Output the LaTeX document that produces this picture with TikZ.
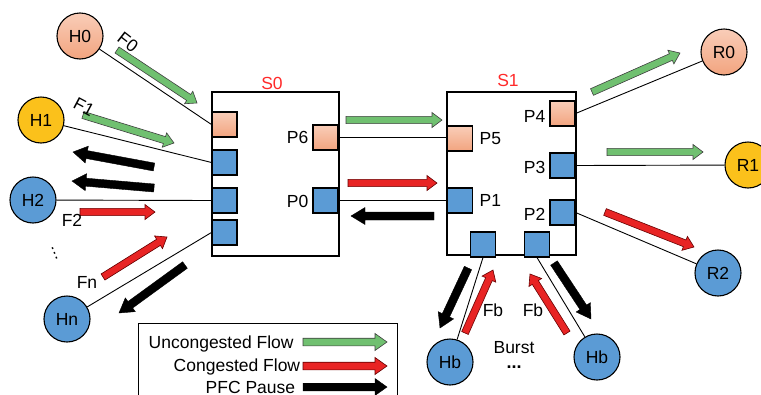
\documentclass[tikz,border=0pt]{standalone}
\usepackage{fontspec}
\setmainfont{Liberation Sans}
\newfontfamily\dejavu{DejaVu Sans}
\usetikzlibrary{calc}
\definecolor{salA}{HTML}{F9CDB8}
\definecolor{salB}{HTML}{F2A47F}
\definecolor{pblue}{HTML}{5B9BD5}
\definecolor{gold}{HTML}{FBC11B}
\definecolor{agreen}{HTML}{70C070}
\definecolor{ared}{HTML}{E82424}
\definecolor{sred}{HTML}{FF2A2A}
% block arrow: style, half shaft, half head, head length, start, tip
\newcommand\blockarr[6]{%
  \coordinate (baA) at #5; \coordinate (baB) at #6;
  \coordinate (baC) at ($(baB)!#4!(baA)$);
  \filldraw[#1] ($(baA)!#2!90:(baB)$) -- ($(baC)!#2!-90:(baA)$) -- ($(baC)!#3!-90:(baA)$) -- (baB) -- ($(baC)!#3!90:(baA)$) -- ($(baC)!#2!90:(baA)$) -- ($(baA)!#2!-90:(baB)$) -- cycle;}
\newcommand\ArrG[2]{\blockarr{ga}{3.6pt}{7.5pt}{10pt}{#1}{#2}}
\newcommand\ArrR[2]{\blockarr{ra}{3.6pt}{7.5pt}{10pt}{#1}{#2}}
\newcommand\ArrK[2]{\blockarr{ka}{4pt}{8.5pt}{14pt}{#1}{#2}}
\newcommand\LegG[2]{\blockarr{ga}{3.8pt}{8.5pt}{12pt}{#1}{#2}}
\newcommand\LegR[2]{\blockarr{ra}{3.8pt}{8.5pt}{12pt}{#1}{#2}}
\newcommand\LegK[2]{\blockarr{ka}{3.8pt}{8.5pt}{12pt}{#1}{#2}}
\begin{document}
\begin{tikzpicture}[x=1pt,y=-1pt,
  every node/.style={font=\fontsize{17.5}{21}\selectfont, inner sep=0.5pt},
  host/.style={circle, draw, line width=1.1pt, minimum size=46pt, inner sep=0pt},
  sal/.style={top color=salA, bottom color=salB},
  port/.style={rectangle, draw, line width=1.1pt, minimum size=25pt, inner sep=0pt},
  bport/.style={port, fill=pblue},
  sport/.style={port, sal},
  swbox/.style={rectangle, draw, line width=1.3pt, inner sep=0pt},
  link/.style={line width=0.9pt},
  ga/.style={fill=agreen, draw=black!75, line width=0.6pt},
  ra/.style={fill=ared, draw=black!60!red, line width=0.6pt},
  ka/.style={fill=black, draw=black, line width=0.4pt},
  legtext/.style={anchor=base west, font=\fontsize{17.5}{21}\selectfont}
]
\useasboundingbox (0,0) rectangle (761,394);

% switches
\node[swbox, minimum width=127pt, minimum height=164pt] (S0) at (275.5,174) {};
\node[swbox, minimum width=129pt, minimum height=163pt] (S1) at (511.5,173.5) {};
\node[text=sred] (S0lab) at (272,83) {S0};
\node[text=sred] (S1lab) at (508,80) {S1};

% ports
\node[sport] (s0a) at (224.5,124.5) {};
\node[bport] (s0b) at (224.5,162.5) {};
\node[bport] (s0c) at (224.5,200.5) {};
\node[bport] (s0d) at (224.5,232.5) {};
\node[sport] (P6) at (325.5,137.5) {};
\node[bport] (P0) at (325.5,200.5) {};
\node[sport] (P5) at (460,138.5) {};
\node[bport] (P1) at (460,200.5) {};
\node[sport] (P4) at (562.5,113.5) {};
\node[bport] (P3) at (562.5,165.5) {};
\node[bport] (P2) at (562.5,212.5) {};
\node[bport] (b1) at (483,244.5) {};
\node[bport] (b2) at (537,244.5) {};

% port labels
\node[anchor=east] (lP6) at (309,137) {P6};
\node[anchor=east] (lP0) at (309,201) {P0};
\node[anchor=west] (lP5) at (479,139) {P5};
\node[anchor=west] (lP1) at (479,200) {P1};
\node[anchor=east] (lP4) at (546,116) {P4};
\node[anchor=east] (lP3) at (546,167) {P3};
\node[anchor=east] (lP2) at (546,214) {P2};

% hosts
\node[host,sal] (H0) at (80,36) {H0};
\node[host,fill=gold] (H1) at (41,120) {H1};
\node[host,fill=pblue] (H2) at (33,200) {H2};
\node[host,fill=pblue] (Hn) at (67,319) {Hn};
\node[host,sal] (R0) at (724,52) {R0};
\node[host,fill=gold] (R1) at (748,165) {R1};
\node[host,fill=pblue] (R2) at (718,273) {R2};
\node[host,fill=pblue] (Hb1) at (450,362) {Hb};
\node[host,fill=pblue] (Hb2) at (597,357) {Hb};

% links
\draw[link] (H0) -- (s0a.west);
\draw[link] (H1) -- (s0b.west);
\draw[link] (H2) -- (s0c.west);
\draw[link] (Hn) -- (s0d.west);
\draw[link] (P6.east) -- (P6.east -| P5.west);
\draw[link] (P0.east) -- (P1.west);
\draw[link] (P4.east) -- (R0);
\draw[link] (P3.east) -- (R1);
\draw[link] (P2.east) -- (R2);
\draw[link] (b1.south) -- (Hb1);
\draw[link] (b2.south) -- (Hb2);

% flow arrows
\ArrG{(117,50)}{(197,103)}
\ArrG{(83,115)}{(174,143)}
\ArrK{(154,167)}{(73,152)}
\ArrK{(154,188)}{(72,181)}
\ArrR{(80,212)}{(155,212)}
\ArrR{(103,277)}{(167,237)}
\ArrK{(185,265)}{(119,313)}
\ArrG{(346,120)}{(442,120)}
\ArrR{(348,183)}{(437,183)}
\ArrK{(434,216)}{(351,216)}
\ArrG{(592,92)}{(680,53)}
\ArrG{(607,152)}{(703,152)}
\ArrR{(605,212)}{(694,247)}
\ArrK{(468,268)}{(440,328)}
\ArrR{(465,333)}{(493,270)}
\ArrR{(567,333)}{(530,274)}
\ArrK{(554,263)}{(591,319)}

% flow labels
\node[rotate=-38] (lF0) at (128,42) {F0};
\node[rotate=-28] (lF1) at (84,107) {F1};
\node (lF2) at (72,220) {F2};
\node (lFn) at (87,282) {Fn};
\node (lFb1) at (493,310) {Fb};
\node (lFb2) at (533,310) {Fb};
\node (lBurst) at (514,348) {Burst};
\node[font=\fontsize{18}{21}\selectfont\bfseries] (lBdots) at (514,367) {...};
\node[rotate=22, font=\fontsize{15}{18}\dejavu] (lHdots) at (54.5,253) {⋮};

% legend
\node[draw, line width=0.9pt, minimum width=259pt, minimum height=90pt, anchor=north west, inner sep=0pt] (leg) at (138,323) {};
\node[legtext] (lg1) at (148,348.5) {Uncongested Flow};
\node[legtext] (lg2) at (173,371) {Congested Flow};
\node[legtext] (lg3) at (205,393) {PFC Pause};
\LegG{(303,342)}{(387,342)}
\LegR{(303,366)}{(387,366)}
\LegK{(303,387)}{(387,387)}
\end{tikzpicture}
\end{document}
